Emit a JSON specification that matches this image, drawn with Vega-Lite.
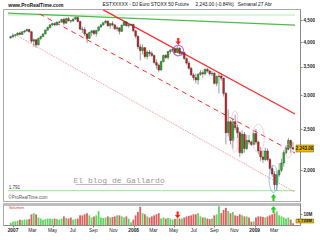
{
"$schema":"https://vega.github.io/schema/vega-lite/v6.json",
"padding":{"left":2,"top":1,"right":0,"bottom":0},
"background":"white",
"spacing":0,
"config":{"view":{"stroke":"#aaaaaa"},"font":"Liberation Sans","axis":{"grid":false,"labelOverlap":false,"domainColor":"#888888","tickColor":"#888888","labelColor":"#222222","labelFont":"Liberation Sans"}},
"datasets":{
"candles":[
{"d":"2006-12-25","o":4090,"h":4130,"l":4070,"c":4120,"v":2},
{"d":"2007-01-01","o":4120,"h":4190,"l":4090,"c":4150,"v":3},
{"d":"2007-01-08","o":4150,"h":4180,"l":4100,"c":4160,"v":3.5},
{"d":"2007-01-15","o":4160,"h":4220,"l":4140,"c":4200,"v":4},
{"d":"2007-01-22","o":4200,"h":4230,"l":4150,"c":4170,"v":5},
{"d":"2007-01-29","o":4170,"h":4240,"l":4160,"c":4230,"v":4.5},
{"d":"2007-02-05","o":4230,"h":4270,"l":4200,"c":4250,"v":5},
{"d":"2007-02-12","o":4250,"h":4300,"l":4230,"c":4280,"v":5},
{"d":"2007-02-19","o":4280,"h":4300,"l":4210,"c":4230,"v":5.5},
{"d":"2007-02-26","o":4230,"h":4240,"l":3980,"c":4020,"v":10},
{"d":"2007-03-05","o":4020,"h":4080,"l":3900,"c":4050,"v":11},
{"d":"2007-03-12","o":4050,"h":4070,"l":3880,"c":3940,"v":10},
{"d":"2007-03-19","o":3940,"h":4100,"l":3930,"c":4080,"v":7},
{"d":"2007-03-26","o":4080,"h":4140,"l":4040,"c":4120,"v":6},
{"d":"2007-04-02","o":4120,"h":4190,"l":4110,"c":4180,"v":5},
{"d":"2007-04-09","o":4180,"h":4280,"l":4170,"c":4270,"v":5.5},
{"d":"2007-04-16","o":4270,"h":4350,"l":4250,"c":4330,"v":6},
{"d":"2007-04-23","o":4330,"h":4400,"l":4300,"c":4390,"v":6},
{"d":"2007-04-30","o":4390,"h":4440,"l":4360,"c":4420,"v":5.5},
{"d":"2007-05-07","o":4420,"h":4450,"l":4360,"c":4390,"v":6},
{"d":"2007-05-14","o":4390,"h":4470,"l":4370,"c":4450,"v":5.5},
{"d":"2007-05-21","o":4450,"h":4490,"l":4420,"c":4460,"v":5},
{"d":"2007-05-28","o":4460,"h":4540,"l":4440,"c":4520,"v":6},
{"d":"2007-06-04","o":4520,"h":4560,"l":4380,"c":4430,"v":8},
{"d":"2007-06-11","o":4430,"h":4560,"l":4420,"c":4540,"v":6.5},
{"d":"2007-06-18","o":4540,"h":4580,"l":4470,"c":4490,"v":6},
{"d":"2007-06-25","o":4490,"h":4510,"l":4430,"c":4480,"v":7},
{"d":"2007-07-02","o":4480,"h":4550,"l":4470,"c":4530,"v":5},
{"d":"2007-07-09","o":4530,"h":4590,"l":4510,"c":4570,"v":5.5},
{"d":"2007-07-16","o":4570,"h":4590,"l":4450,"c":4470,"v":6},
{"d":"2007-07-23","o":4470,"h":4490,"l":4260,"c":4290,"v":9},
{"d":"2007-07-30","o":4290,"h":4350,"l":4200,"c":4280,"v":9},
{"d":"2007-08-06","o":4280,"h":4340,"l":4130,"c":4180,"v":10},
{"d":"2007-08-13","o":4180,"h":4200,"l":3980,"c":4080,"v":11},
{"d":"2007-08-20","o":4080,"h":4230,"l":4070,"c":4210,"v":9},
{"d":"2007-08-27","o":4210,"h":4270,"l":4130,"c":4250,"v":7},
{"d":"2007-09-03","o":4250,"h":4280,"l":4150,"c":4190,"v":8},
{"d":"2007-09-10","o":4190,"h":4270,"l":4120,"c":4260,"v":9},
{"d":"2007-09-17","o":4260,"h":4360,"l":4230,"c":4340,"v":13},
{"d":"2007-09-24","o":4340,"h":4400,"l":4320,"c":4390,"v":7},
{"d":"2007-10-01","o":4390,"h":4460,"l":4370,"c":4440,"v":6.5},
{"d":"2007-10-08","o":4440,"h":4510,"l":4420,"c":4480,"v":7},
{"d":"2007-10-15","o":4480,"h":4490,"l":4340,"c":4370,"v":8},
{"d":"2007-10-22","o":4370,"h":4430,"l":4300,"c":4420,"v":7},
{"d":"2007-10-29","o":4420,"h":4480,"l":4360,"c":4390,"v":7.5},
{"d":"2007-11-05","o":4390,"h":4400,"l":4270,"c":4300,"v":8},
{"d":"2007-11-12","o":4300,"h":4360,"l":4240,"c":4320,"v":9},
{"d":"2007-11-19","o":4320,"h":4330,"l":4170,"c":4240,"v":9},
{"d":"2007-11-26","o":4240,"h":4400,"l":4220,"c":4380,"v":8},
{"d":"2007-12-03","o":4380,"h":4480,"l":4370,"c":4460,"v":7},
{"d":"2007-12-10","o":4460,"h":4480,"l":4350,"c":4370,"v":8},
{"d":"2007-12-17","o":4370,"h":4410,"l":4320,"c":4390,"v":6},
{"d":"2007-12-24","o":4390,"h":4420,"l":4370,"c":4400,"v":2.5},
{"d":"2007-12-31","o":4400,"h":4420,"l":4230,"c":4250,"v":5},
{"d":"2008-01-07","o":4250,"h":4270,"l":4080,"c":4130,"v":9},
{"d":"2008-01-14","o":4130,"h":4140,"l":3850,"c":3900,"v":12},
{"d":"2008-01-21","o":3900,"h":3960,"l":3620,"c":3820,"v":17},
{"d":"2008-01-28","o":3820,"h":3950,"l":3740,"c":3880,"v":11},
{"d":"2008-02-04","o":3880,"h":3900,"l":3660,"c":3700,"v":10},
{"d":"2008-02-11","o":3700,"h":3820,"l":3640,"c":3790,"v":8},
{"d":"2008-02-18","o":3790,"h":3830,"l":3700,"c":3760,"v":7},
{"d":"2008-02-25","o":3760,"h":3810,"l":3690,"c":3720,"v":8},
{"d":"2008-03-03","o":3720,"h":3740,"l":3560,"c":3580,"v":9},
{"d":"2008-03-10","o":3580,"h":3640,"l":3460,"c":3530,"v":10},
{"d":"2008-03-17","o":3530,"h":3560,"l":3400,"c":3440,"v":11},
{"d":"2008-03-24","o":3440,"h":3620,"l":3430,"c":3600,"v":6},
{"d":"2008-03-31","o":3600,"h":3740,"l":3580,"c":3720,"v":7},
{"d":"2008-04-07","o":3720,"h":3750,"l":3650,"c":3680,"v":6},
{"d":"2008-04-14","o":3680,"h":3810,"l":3640,"c":3800,"v":6.5},
{"d":"2008-04-21","o":3800,"h":3850,"l":3760,"c":3830,"v":6},
{"d":"2008-04-28","o":3830,"h":3870,"l":3790,"c":3850,"v":5},
{"d":"2008-05-05","o":3850,"h":3880,"l":3760,"c":3780,"v":5.5},
{"d":"2008-05-12","o":3780,"h":3910,"l":3770,"c":3870,"v":6},
{"d":"2008-05-19","o":3870,"h":3890,"l":3740,"c":3760,"v":6},
{"d":"2008-05-26","o":3760,"h":3810,"l":3720,"c":3780,"v":6},
{"d":"2008-06-02","o":3780,"h":3800,"l":3630,"c":3660,"v":7},
{"d":"2008-06-09","o":3660,"h":3680,"l":3540,"c":3570,"v":8},
{"d":"2008-06-16","o":3570,"h":3620,"l":3450,"c":3470,"v":8.5},
{"d":"2008-06-23","o":3470,"h":3500,"l":3330,"c":3350,"v":9},
{"d":"2008-06-30","o":3350,"h":3380,"l":3250,"c":3300,"v":10},
{"d":"2008-07-07","o":3300,"h":3370,"l":3200,"c":3260,"v":10},
{"d":"2008-07-14","o":3260,"h":3380,"l":3180,"c":3360,"v":11},
{"d":"2008-07-21","o":3360,"h":3440,"l":3330,"c":3390,"v":8},
{"d":"2008-07-28","o":3390,"h":3430,"l":3300,"c":3370,"v":7},
{"d":"2008-08-04","o":3370,"h":3470,"l":3340,"c":3450,"v":7},
{"d":"2008-08-11","o":3450,"h":3480,"l":3390,"c":3420,"v":6},
{"d":"2008-08-18","o":3420,"h":3440,"l":3340,"c":3370,"v":5.5},
{"d":"2008-08-25","o":3370,"h":3420,"l":3330,"c":3380,"v":6},
{"d":"2008-09-01","o":3380,"h":3400,"l":3180,"c":3200,"v":9},
{"d":"2008-09-08","o":3200,"h":3340,"l":3150,"c":3320,"v":10},
{"d":"2008-09-15","o":3320,"h":3380,"l":3030,"c":3330,"v":17.5},
{"d":"2008-09-22","o":3330,"h":3380,"l":3250,"c":3290,"v":11},
{"d":"2008-09-29","o":3290,"h":3300,"l":2980,"c":3030,"v":14},
{"d":"2008-10-06","o":3030,"h":3050,"l":2300,"c":2450,"v":16},
{"d":"2008-10-13","o":2450,"h":2780,"l":2400,"c":2600,"v":13},
{"d":"2008-10-20","o":2600,"h":2620,"l":2300,"c":2350,"v":11},
{"d":"2008-10-27","o":2350,"h":2650,"l":2250,"c":2600,"v":12},
{"d":"2008-11-03","o":2600,"h":2700,"l":2480,"c":2520,"v":9},
{"d":"2008-11-10","o":2520,"h":2560,"l":2380,"c":2450,"v":8.5},
{"d":"2008-11-17","o":2450,"h":2470,"l":2150,"c":2200,"v":10},
{"d":"2008-11-24","o":2200,"h":2480,"l":2180,"c":2430,"v":9},
{"d":"2008-12-01","o":2430,"h":2460,"l":2200,"c":2250,"v":8},
{"d":"2008-12-08","o":2250,"h":2420,"l":2230,"c":2350,"v":8},
{"d":"2008-12-15","o":2350,"h":2420,"l":2300,"c":2330,"v":7},
{"d":"2008-12-22","o":2330,"h":2350,"l":2280,"c":2300,"v":3},
{"d":"2008-12-29","o":2300,"h":2470,"l":2290,"c":2440,"v":3.5},
{"d":"2009-01-05","o":2440,"h":2500,"l":2300,"c":2330,"v":7},
{"d":"2009-01-12","o":2330,"h":2350,"l":2180,"c":2220,"v":8},
{"d":"2009-01-19","o":2220,"h":2270,"l":2100,"c":2150,"v":8},
{"d":"2009-01-26","o":2150,"h":2230,"l":2080,"c":2120,"v":7.5},
{"d":"2009-02-02","o":2120,"h":2260,"l":2100,"c":2220,"v":7},
{"d":"2009-02-09","o":2220,"h":2250,"l":2100,"c":2120,"v":8},
{"d":"2009-02-16","o":2120,"h":2140,"l":2000,"c":2020,"v":9},
{"d":"2009-02-23","o":2020,"h":2060,"l":1930,"c":1960,"v":10},
{"d":"2009-03-02","o":1960,"h":1990,"l":1800,"c":1850,"v":11},
{"d":"2009-03-09","o":1850,"h":1990,"l":1791,"c":1950,"v":12.5},
{"d":"2009-03-16","o":1950,"h":2080,"l":1930,"c":2000,"v":9},
{"d":"2009-03-23","o":2000,"h":2130,"l":1980,"c":2080,"v":8},
{"d":"2009-03-30","o":2080,"h":2230,"l":2040,"c":2200,"v":7},
{"d":"2009-04-06","o":2200,"h":2290,"l":2180,"c":2250,"v":6},
{"d":"2009-04-13","o":2250,"h":2380,"l":2230,"c":2350,"v":7},
{"d":"2009-04-20","o":2350,"h":2360,"l":2200,"c":2260,"v":5},
{"d":"2009-04-27","o":2260,"h":2330,"l":2230,"c":2243,"v":1.729}
],
"lines":[
{"id":"sup","d":"2006-12-17","p":1791},{"id":"sup","d":"2009-05-03","p":1791},
{"id":"g2","d":"2006-12-17","p":4630},{"id":"g2","d":"2009-05-03","p":4630},
{"id":"g1","d":"2006-12-17","p":4680},{"id":"g1","d":"2009-05-03","p":4386},
{"id":"pd","d":"2007-01-10","p":4155},{"id":"pd","d":"2009-05-01","p":1779},
{"id":"rd","d":"2007-03-23","p":4656},{"id":"rd","d":"2009-05-03","p":2196},
{"id":"rs","d":"2007-10-01","p":4760},{"id":"rs","d":"2009-05-03","p":2712},
{"id":"ul","d":"2007-07-09","p":1852},{"id":"ul","d":"2008-03-31","p":1852}
],
"ann":[
{"k":"www","t":"www.ProRealTime.com","d":"2006-12-18","p":4887},
{"k":"top","t":"ESTXXXXX - DJ Euro STOXX 50 Future","d":"2007-09-29","p":4887},
{"k":"top","t":"2,243.00 (-0.84%)","d":"2008-07-06","p":4887},
{"k":"top","t":"Semanal 27 Abr","d":"2008-11-11","p":4887},
{"k":"blog","t":"El blog de Gallardo","d":"2007-11-18","p":1867},
{"k":"sup","t":"1,791","d":"2006-12-19","p":1791},
{"k":"copy","t":"©ProRealTime.com","d":"2006-12-18","p":1700},
{"k":"purple","d":"2008-05-15","p":3820},
{"k":"arrowdn","d":"2008-05-15","p":4012},
{"k":"blue","d":"2009-02-27","p":1908},
{"k":"arrowup","d":"2009-02-27","p":1727},
{"k":"pinks","d":"2008-11-02","p":2653},
{"k":"pinks","d":"2008-11-02","p":2293},
{"k":"pinkb","d":"2009-01-12","p":2380},
{"k":"pinks","d":"2009-04-13","p":2220}
],
"vann":[
{"k":"arrowdn","d":"2008-05-13","v":9.3},
{"k":"arrowup","d":"2009-02-27","v":14.5},
{"k":"vol","t":"Volumen","d":"2006-12-19","v":16.3}
],
"xl":[
{"d":"2007-01-01","t":"2007","v":-2.8},{"d":"2007-03-01","t":"Mar","v":-2.8},{"d":"2007-05-01","t":"May","v":-2.8},
{"d":"2007-07-01","t":"Jul","v":-2.8},{"d":"2007-09-01","t":"Sep","v":-2.8},{"d":"2007-11-01","t":"Nov","v":-2.8},
{"d":"2008-01-01","t":"2008","v":-2.8},{"d":"2008-03-01","t":"Mar","v":-2.8},{"d":"2008-05-01","t":"May","v":-2.8},
{"d":"2008-07-01","t":"Jul","v":-2.8},{"d":"2008-09-01","t":"Sep","v":-2.8},{"d":"2008-11-01","t":"Nov","v":-2.8},
{"d":"2009-01-01","t":"2009","v":-2.8},{"d":"2009-03-01","t":"Mar","v":-2.8}
]
},
"vconcat":[
{
"width":297,"height":192,
"layer":[
{"data":{"name":"lines"},"transform":[{"filter":"datum.id=='sup'"}],"mark":{"type":"line","color":"#9be39b","strokeWidth":1,"clip":true},
 "encoding":{"x":{"field":"d","type":"temporal","scale":{"type":"utc","domain":[{"year":2006,"month":12,"date":17,"utc":true},{"year":2009,"month":5,"date":3,"utc":true}]},"axis":null},
 "y":{"field":"p","type":"quantitative","scale":{"type":"log","domain":[1694,4783],"nice":false},"axis":{"orient":"right","title":null,"values":[2000,2500,3000,3500,4000,4500],"format":",.0f","labelFontSize":4.6,"labelFontWeight":"bold","tickSize":2,"labelPadding":1,"labelOverlap":false}}}},
{"data":{"name":"lines"},"transform":[{"filter":"datum.id=='g2'"}],"mark":{"type":"line","color":"#b5e8b5","strokeWidth":1.2,"clip":true},
 "encoding":{"x":{"field":"d","type":"temporal"},"y":{"field":"p","type":"quantitative"}}},
{"data":{"name":"lines"},"transform":[{"filter":"datum.id=='g1'"}],"mark":{"type":"line","color":"#4cbb4c","strokeWidth":1.2,"clip":true},
 "encoding":{"x":{"field":"d","type":"temporal"},"y":{"field":"p","type":"quantitative"}}},
{"data":{"name":"lines"},"transform":[{"filter":"datum.id=='pd'"}],"mark":{"type":"line","color":"#ff7c7c","strokeWidth":0.9,"strokeDash":[1,1],"clip":true},
 "encoding":{"x":{"field":"d","type":"temporal"},"y":{"field":"p","type":"quantitative"}}},
{"data":{"name":"lines"},"transform":[{"filter":"datum.id=='rd'"}],"mark":{"type":"line","color":"#ff2a2a","strokeWidth":1,"strokeDash":[5,4],"clip":true},
 "encoding":{"x":{"field":"d","type":"temporal"},"y":{"field":"p","type":"quantitative"}}},
{"data":{"name":"lines"},"transform":[{"filter":"datum.id=='rs'"}],"mark":{"type":"line","color":"#ff2a2a","strokeWidth":1.2,"clip":true},
 "encoding":{"x":{"field":"d","type":"temporal"},"y":{"field":"p","type":"quantitative"}}},
{"data":{"name":"lines"},"transform":[{"filter":"datum.id=='ul'"}],"mark":{"type":"line","color":"#a0a0a0","strokeWidth":0.7},
 "encoding":{"x":{"field":"d","type":"temporal"},"y":{"field":"p","type":"quantitative"}}},
{"data":{"name":"candles"},"mark":{"type":"rule","color":"#555555","strokeWidth":0.6},
 "encoding":{"x":{"field":"d","type":"temporal"},"y":{"field":"l","type":"quantitative"},"y2":{"field":"h"}}},
{"data":{"name":"candles"},"mark":{"type":"bar","size":1.8,"stroke":"#222222","strokeWidth":0.35},
 "encoding":{"x":{"field":"d","type":"temporal"},"y":{"field":"o","type":"quantitative"},"y2":{"field":"c"},
 "color":{"condition":{"test":"datum.c>=datum.o","value":"#22bb22"},"value":"#cc2222"}}},
{"data":{"name":"ann"},"transform":[{"filter":"datum.k=='purple'"}],"mark":{"type":"point","shape":"circle","size":110,"filled":false,"color":"#9933cc","strokeWidth":1.2},
 "encoding":{"x":{"field":"d","type":"temporal"},"y":{"field":"p","type":"quantitative"}}},
{"data":{"name":"ann"},"transform":[{"filter":"datum.k=='pinks'"}],"mark":{"type":"point","shape":"M0,-1 A0.42,1 0 1,1 0,1 A0.42,1 0 1,1 0,-1 Z","size":196,"filled":false,"color":"#f5a6c8","strokeWidth":0.8},
 "encoding":{"x":{"field":"d","type":"temporal"},"y":{"field":"p","type":"quantitative"}}},
{"data":{"name":"ann"},"transform":[{"filter":"datum.k=='pinkb'"}],"mark":{"type":"point","shape":"M0,-1 A0.42,1 0 1,1 0,1 A0.42,1 0 1,1 0,-1 Z","size":784,"filled":false,"color":"#f5a6c8","strokeWidth":0.8},
 "encoding":{"x":{"field":"d","type":"temporal"},"y":{"field":"p","type":"quantitative"}}},
{"data":{"name":"ann"},"transform":[{"filter":"datum.k=='blue'"}],"mark":{"type":"point","shape":"M0,-1 A0.33,1 0 1,1 0,1 A0.33,1 0 1,1 0,-1 Z","size":729,"filled":false,"color":"#55b4ea","strokeWidth":1},
 "encoding":{"x":{"field":"d","type":"temporal"},"y":{"field":"p","type":"quantitative"}}},
{"data":{"name":"ann"},"transform":[{"filter":"datum.k=='arrowdn'"}],"mark":{"type":"point","shape":"M-0.3,-1 L0.3,-1 L0.3,0 L0.8,0 L0,1 L-0.8,0 L-0.3,0 Z","size":49,"filled":true,"color":"#ff2020","opacity":1},
 "encoding":{"x":{"field":"d","type":"temporal"},"y":{"field":"p","type":"quantitative"}}},
{"data":{"name":"ann"},"transform":[{"filter":"datum.k=='arrowup'"}],"mark":{"type":"point","shape":"M-0.3,1 L0.3,1 L0.3,0 L0.8,0 L0,-1 L-0.8,0 L-0.3,0 Z","size":49,"filled":true,"color":"#22cc22","opacity":1},
 "encoding":{"x":{"field":"d","type":"temporal"},"y":{"field":"p","type":"quantitative"}}},
{"data":{"name":"ann"},"transform":[{"filter":"datum.k=='www'"}],"mark":{"type":"text","align":"left","baseline":"middle","fontSize":5,"fontWeight":"bold","color":"#111111"},
 "encoding":{"x":{"field":"d","type":"temporal"},"y":{"field":"p","type":"quantitative"},"text":{"field":"t"}}},
{"data":{"name":"ann"},"transform":[{"filter":"datum.k=='top'"}],"mark":{"type":"text","align":"left","baseline":"middle","fontSize":4.8,"color":"#111111"},
 "encoding":{"x":{"field":"d","type":"temporal"},"y":{"field":"p","type":"quantitative"},"text":{"field":"t"}}},
{"data":{"name":"ann"},"transform":[{"filter":"datum.k=='blog'"}],"mark":{"type":"text","align":"center","baseline":"alphabetic","fontSize":8,"font":"Liberation Mono","color":"#9a9a9a"},
 "encoding":{"x":{"field":"d","type":"temporal"},"y":{"field":"p","type":"quantitative"},"text":{"field":"t"}}},
{"data":{"name":"ann"},"transform":[{"filter":"datum.k=='sup'"}],"mark":{"type":"text","align":"left","baseline":"bottom","dy":-1,"fontSize":4.5,"color":"#333333"},
 "encoding":{"x":{"field":"d","type":"temporal"},"y":{"field":"p","type":"quantitative"},"text":{"field":"t"}}},
{"data":{"name":"ann"},"transform":[{"filter":"datum.k=='copy'"}],"mark":{"type":"text","align":"left","baseline":"bottom","fontSize":4.5,"color":"#555555"},
 "encoding":{"x":{"field":"d","type":"temporal"},"y":{"field":"p","type":"quantitative"},"text":{"field":"t"}}},
{"data":{"values":[{}]},"mark":{"type":"rect","fill":"#f0c000","stroke":"#6b5200","strokeWidth":0.5,"clip":false},
 "encoding":{"x":{"datum":{"year":2009,"month":5,"date":6,"utc":true},"type":"temporal"},"x2":{"datum":{"year":2009,"month":6,"date":28,"utc":true}},"y":{"datum":2208,"type":"quantitative"},"y2":{"datum":2293}}},
{"data":{"values":[{}]},"mark":{"type":"text","align":"center","baseline":"middle","fontSize":4.5,"fontWeight":"bold","color":"#111111"},
 "encoding":{"x":{"datum":{"year":2009,"month":6,"date":1,"utc":true},"type":"temporal"},"y":{"datum":2243,"type":"quantitative"},"text":{"value":"2,243.00"}}}
]
},
{
"width":297,"height":22,
"layer":[
{"data":{"values":[{}]},"mark":{"type":"rect","fill":"#bdbdbd"},
 "encoding":{"y":{"datum":17.7,"type":"quantitative","scale":{"domain":[0,20.5],"nice":false}},"y2":{"datum":20.5}}},
{"data":{"name":"candles"},"mark":{"type":"bar","size":1.8},
 "encoding":{"x":{"field":"d","type":"temporal","scale":{"type":"utc","domain":[{"year":2006,"month":12,"date":17,"utc":true},{"year":2009,"month":5,"date":3,"utc":true}]},
 "axis":{"orient":"bottom","title":null,"values":[{"year":2007,"month":1,"date":1,"utc":true},{"year":2007,"month":3,"date":1,"utc":true},{"year":2007,"month":5,"date":1,"utc":true},{"year":2007,"month":7,"date":1,"utc":true},{"year":2007,"month":9,"date":1,"utc":true},{"year":2007,"month":11,"date":1,"utc":true},{"year":2008,"month":1,"date":1,"utc":true},{"year":2008,"month":3,"date":1,"utc":true},{"year":2008,"month":5,"date":1,"utc":true},{"year":2008,"month":7,"date":1,"utc":true},{"year":2008,"month":9,"date":1,"utc":true},{"year":2008,"month":11,"date":1,"utc":true},{"year":2009,"month":1,"date":1,"utc":true},{"year":2009,"month":3,"date":1,"utc":true}],
 "labels":false,"tickSize":2}},
 "y":{"field":"v","type":"quantitative","axis":{"orient":"right","title":null,"values":[10],"labelExpr":"'10M'","labelFontSize":4.6,"labelFontWeight":"bold","tickSize":2,"labelPadding":1}},
 "color":{"condition":{"test":"datum.c>=datum.o","value":"#62d462"},"value":"#dd5f5f"}}},
{"data":{"name":"xl"},"transform":[{"filter":"length(datum.t)==4"}],"mark":{"type":"text","align":"center","baseline":"top","fontSize":4.8,"fontWeight":"bold","color":"#222222","clip":false},
 "encoding":{"x":{"field":"d","type":"temporal"},"y":{"field":"v","type":"quantitative"},"text":{"field":"t"}}},
{"data":{"name":"xl"},"transform":[{"filter":"length(datum.t)!=4"}],"mark":{"type":"text","align":"center","baseline":"top","fontSize":4.8,"color":"#222222","clip":false},
 "encoding":{"x":{"field":"d","type":"temporal"},"y":{"field":"v","type":"quantitative"},"text":{"field":"t"}}},
{"data":{"name":"vann"},"transform":[{"filter":"datum.k=='arrowdn'"}],"mark":{"type":"point","shape":"M-0.3,-1 L0.3,-1 L0.3,0 L0.8,0 L0,1 L-0.8,0 L-0.3,0 Z","size":49,"filled":true,"color":"#ff2020","opacity":1},
 "encoding":{"x":{"field":"d","type":"temporal"},"y":{"field":"v","type":"quantitative"}}},
{"data":{"name":"vann"},"transform":[{"filter":"datum.k=='arrowup'"}],"mark":{"type":"point","shape":"M-0.3,1 L0.3,1 L0.3,0 L0.8,0 L0,-1 L-0.8,0 L-0.3,0 Z","size":49,"filled":true,"color":"#22cc22","opacity":1},
 "encoding":{"x":{"field":"d","type":"temporal"},"y":{"field":"v","type":"quantitative"}}},
{"data":{"name":"vann"},"transform":[{"filter":"datum.k=='vol'"}],"mark":{"type":"text","align":"left","baseline":"middle","fontSize":4,"color":"#dd3333"},
 "encoding":{"x":{"field":"d","type":"temporal"},"y":{"field":"v","type":"quantitative"},"text":{"field":"t"}}},
{"data":{"values":[{}]},"mark":{"type":"rect","fill":"#f0c000","stroke":"#6b5200","strokeWidth":0.5,"clip":false},
 "encoding":{"x":{"datum":{"year":2009,"month":5,"date":6,"utc":true},"type":"temporal"},"x2":{"datum":{"year":2009,"month":6,"date":28,"utc":true}},"y":{"datum":1.86,"type":"quantitative"},"y2":{"datum":5.6}}},
{"data":{"values":[{}]},"mark":{"type":"text","align":"center","baseline":"middle","fontSize":4.3,"fontWeight":"bold","color":"#111111"},
 "encoding":{"x":{"datum":{"year":2009,"month":6,"date":1,"utc":true},"type":"temporal"},"y":{"datum":3.73,"type":"quantitative"},"text":{"value":"1.729M"}}}
]
}
]
}
